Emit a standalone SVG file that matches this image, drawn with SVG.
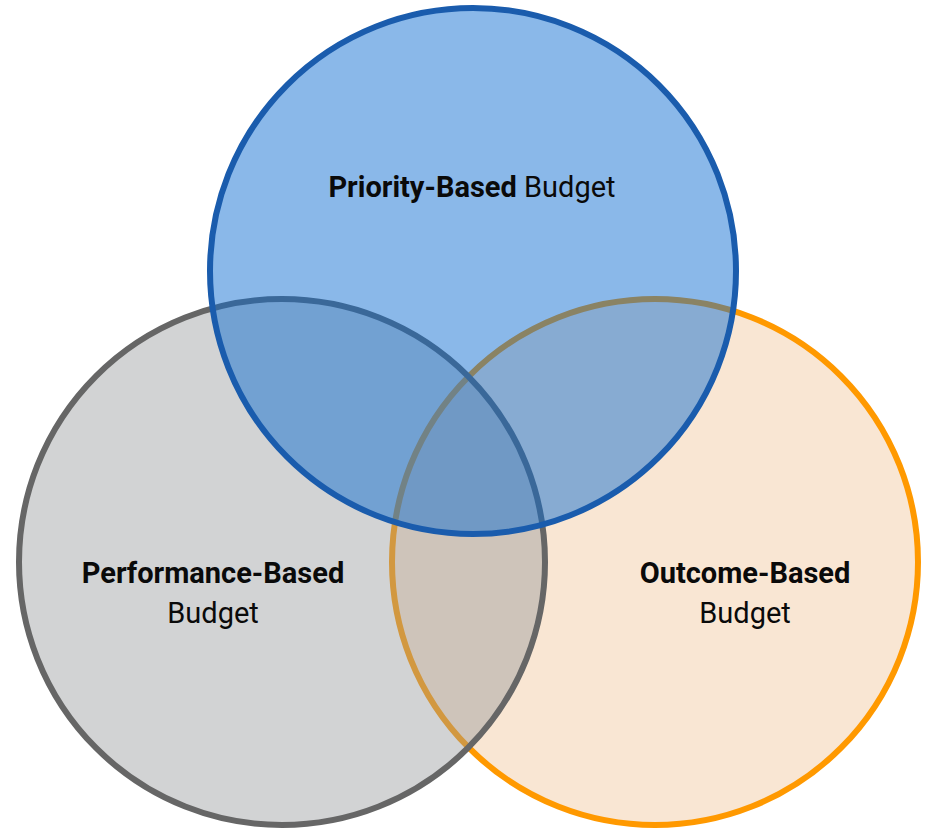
<svg xmlns="http://www.w3.org/2000/svg" width="932" height="829" viewBox="0 0 932 829">
<style>
.c{stroke-width:6}
.t{font-family:Roboto,"Liberation Sans",sans-serif;font-size:29px;fill:#0a0a0a;text-anchor:middle}
.b{font-weight:700}
</style>
<rect width="932" height="829" fill="#ffffff"/>
<g id="outcome">
<circle class="c" cx="655" cy="562" r="263" fill="#F9E6D3" stroke="#FF9900"/>
</g>
<g id="performance">
<circle class="c" cx="282" cy="562" r="263" fill="rgb(147,150,152)" fill-opacity="0.42" stroke="#666666"/>
</g>
<g id="priority">
<circle class="c" cx="473" cy="271" r="263" fill="rgb(10,106,210)" fill-opacity="0.48" stroke="#1A5CAD"/>
</g>
<g id="labels">
<text class="t" x="472" y="197"><tspan class="b">Priority-Based</tspan> Budget</text>
<text class="t b" x="213" y="583">Performance-Based</text>
<text class="t" x="213" y="623">Budget</text>
<text class="t b" x="745" y="583">Outcome-Based</text>
<text class="t" x="745" y="623">Budget</text>
</g>
</svg>
